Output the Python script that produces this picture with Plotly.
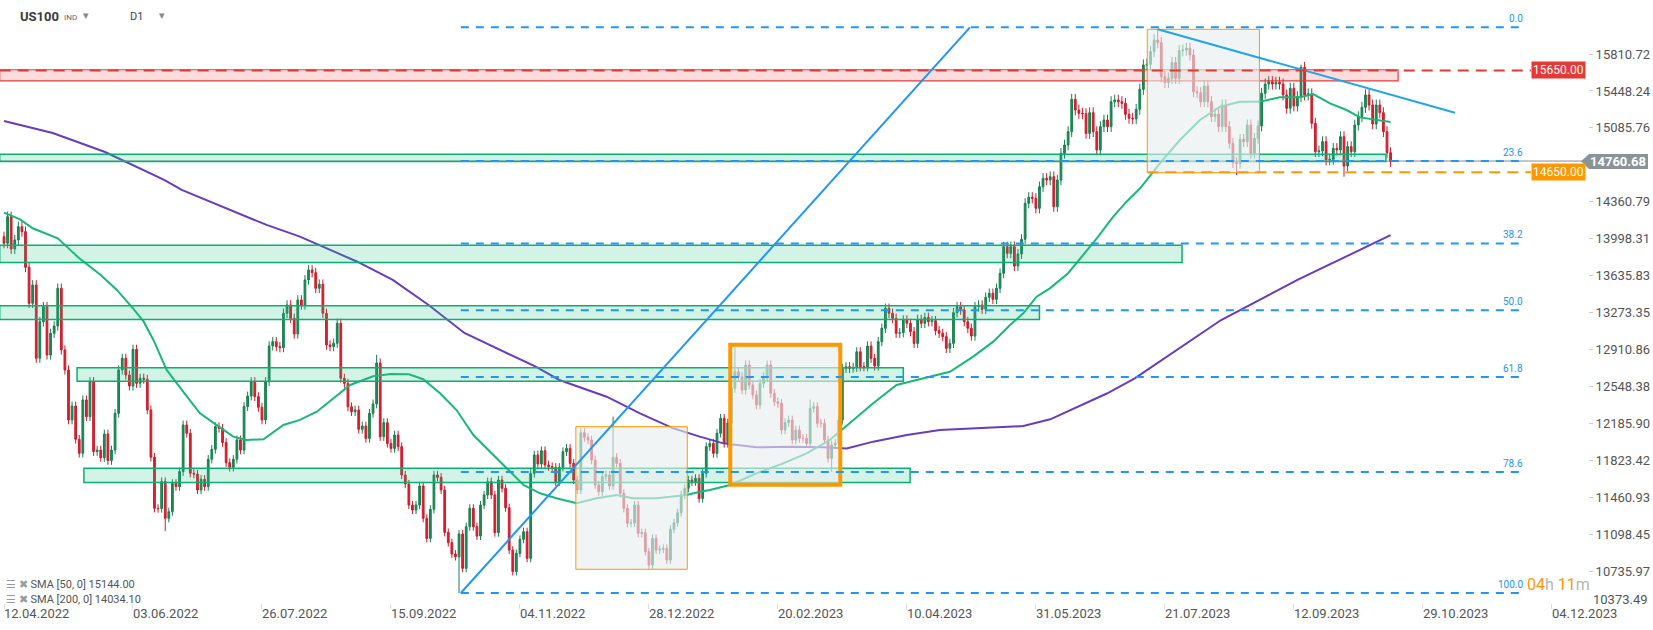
import plotly.graph_objects as go

# ---------------- data ----------------
first_open = 14019
closes = [
 13954,14215,13898,13987,14117,14068,13718,13365,13545,12826,
 13185,13332,12858,13071,13143,13512,12907,12711,12221,12358,
 12031,11894,12417,12253,12597,11910,11926,11851,12083,11822,
 11926,12286,12711,12826,12662,12554,12914,12580,12630,12620,
 12319,11855,11354,11351,11616,11256,11321,11599,11567,11714,
 12172,12090,11698,11690,11534,11639,11567,11835,11933,12155,
 12139,12000,11802,11756,11835,12025,11926,12352,12456,12597,
 12450,12345,12221,12597,12947,12989,12940,12930,13267,13349,
 13218,13064,13398,13349,13594,13692,13666,13512,13552,13267,
 12956,12940,12973,13169,12630,12580,12350,12302,12318,12129,
 12161,12040,12286,12378,12780,12057,12194,11991,11942,12073,
 11959,11681,11592,11386,11337,11386,11573,11256,11059,11344,
 11681,11658,11534,11118,11017,10906,10880,11102,10765,11174,
 11354,11174,11082,11386,11485,11615,11485,11115,11632,11550,
 11360,10945,10733,10912,11050,11125,10863,11697,11877,11789,
 11919,11779,11763,11756,11615,11756,11910,11942,11795,11632,
 11534,12096,12050,12024,11828,11583,11517,11664,11681,11573,
 11854,11795,11501,11354,11207,11210,11386,11108,11115,10929,
 10798,11059,10945,10952,10961,10847,11148,11213,11311,11485,
 11550,11632,11615,11648,11450,11697,11959,11991,11893,12090,
 12237,11991,12190,12531,12694,12645,12515,12760,12564,12466,
 12368,12580,12645,12760,12482,12400,12384,12122,12194,12220,
 12024,12122,12040,12040,11991,12335,12351,12188,12188,12024,
 11844,11975,11991,12220,12727,12743,12727,12737,12890,12743,
 12743,12946,12825,12750,12989,13120,13316,13267,13218,13071,
 13077,13201,13169,13087,12972,13208,13169,13227,13185,13195,
 13097,13071,13038,12923,12972,13273,13332,13299,13185,13120,
 13044,13332,13348,13306,13424,13463,13404,13512,13659,13921,
 13855,13921,13731,13849,13993,14346,14405,14395,14297,14509,
 14591,14575,14607,14313,14575,14836,14918,15049,15366,15261,
 15229,15225,15032,15235,15049,14869,15098,15163,15098,15343,
 15359,15343,15327,15219,15180,15175,15268,15464,15703,15710,
 15834,15948,15922,15588,15530,15572,15726,15572,15843,15850,
 15866,15801,15441,15431,15343,15497,15343,15196,15222,15098,
 15310,15098,14934,14745,14738,14974,14951,15114,14836,14983,
 15104,15425,15516,15539,15516,15533,15516,15409,15278,15474,
 15301,15392,15680,15409,15420,15131,14852,14860,14951,14771,
 14777,14885,14869,15000,14712,14902,14852,15114,15196,15288,
 15409,15310,15124,15310,15235,15049,14843,14755,
]
notable_highs = {104: 12860, 170: 12253, 204: 12956, 225: 12420, 322: 16053, 362: 15705}
notable_lows = {45: 11130, 127: 10523, 180: 10760, 231: 11713, 344: 14624, 374: 14607}

sma50_x = [0,4.5,8,13,15,17.5,21,27,31.5,36,39,41.7,45.4,50,54.7,59.3,64,67.7,72.4,78,
           82.6,87.3,92,96.6,103,108,113,117,121.7,126.3,131,135.6,140.3,145,149.6,154.2,
           159.8,165.4,171,175.6,182.2,186.8,190.5,194.2,197,202.6,210,217.5,224,230.5,
           236.1,242.6,249.1,256.6,264,270.5,276.1,280.8,284.5,288.2,291.9,297,305,309.6,
           313.3,317.1,322.6,328.2,333.8,339.4,345,350.5,356.1,361.7,365.4,370.1,374.7,
           378.5,382.2,387]
sma50_y = [14255,14189,14101,14035,14003,13921,13807,13643,13496,13316,13185,13006,12711,
           12499,12286,12172,12057,12025,12031,12172,12221,12302,12433,12564,12650,12672,
           12668,12620,12482,12318,12073,11910,11746,11583,11501,11452,11403,11452,11485,
           11452,11452,11468,11485,11517,11534,11583,11697,11795,11893,12024,12188,12384,
           12564,12629,12694,12842,12989,13152,13267,13430,13512,13660,14002,14215,14362,
           14493,14738,14967,15163,15294,15343,15343,15386,15386,15418,15327,15261,15189,
           15170,15144]
sma200_x = [0,13.6,28.2,44.7,49.6,64,73.3,82.6,91.9,98.6,108.5,118.5,128.5,138.4,148.4,155,
            158.9,168.2,177.5,186.8,194.2,200.8,210,219.4,228.7,235.2,242.6,252,261.2,270.5,
            279.8,284.5,292,307.8,315.6,339.7,361,387]
sma200_y = [15154,15036,14849,14575,14477,14264,14134,14019,13872,13773,13594,13349,13074,
            12907,12743,12613,12564,12449,12286,12139,12057,11991,11952,11958,11952,11942,
            12008,12073,12122,12139,12155,12161,12227,12480,12629,13201,13594,14034]

date_labels = ["12.04.2022","03.06.2022","26.07.2022","15.09.2022","04.11.2022","28.12.2022",
               "20.02.2023","10.04.2023","31.05.2023","21.07.2023","12.09.2023","29.10.2023",
               "04.12.2023"]
date_label_bars = [0,36,72,108,144,180,216,252,288,324,360,396,432]

price_ticks = [15810.72,15448.24,15085.76,14360.79,13998.31,13635.83,13273.35,12910.86,
               12548.38,12185.90,11823.42,11460.93,11098.45,10735.97]

fib_names = ["0.0","23.6","38.2","50.0","61.8","78.6","100.0"]
fib_values = [16072,14762,13952,13298,12643,11710,10523]

zone_low = [14755,13766,13207,12600,11607]
zone_high = [14828,13934,13342,12733,11748]
zone_start = [-1.2,-1.2,-1.2,20.4,22.3]
zone_end = [385.7,328.8,289.0,251.0,252.9]

resistance_level = 15650.00
resistance_zone = (15547, 15656, -1.2, 389.1)
support_level = 14650.00
last_price = 14760.68

boxes = [  # (bar0, bar1, low, high, line width)
    (159.6, 190.7, 10756, 12155, 1),
    (202.7, 233.4, 11586, 12959, 4),
    (319.1, 350.4, 14646, 16053, 1),
]
fib_anchor = [(127.5, 10523), (269.6, 16072)]
trend_line = [(322, 16053), (405, 15234)]

# ---------------- build ----------------
opens = [first_open] + closes[:-1]
highs, lows = [], []
for i, (o, c) in enumerate(zip(opens, closes)):
    highs.append(notable_highs.get(i, max(o, c) * 1.0035))
    lows.append(notable_lows.get(i, min(o, c) * 0.9965))
bars = list(range(len(closes)))

W, H = 1653, 630
ML, MR, MT, MB = 0, 65, 0, 27
PW, PH = W - ML - MR, H - MT - MB
X_RANGE = [-1.116, 442.1]
Y_RANGE = [10425.2, 16340.4]

def bx(px):   # pixel x -> bar index
    return X_RANGE[0] + px / PW * (X_RANGE[1] - X_RANGE[0])

def ppx(px):  # pixel -> paper x
    return px / PW

def ppy(py):  # pixel -> paper y
    return (PH - py) / PH

FONT = "Roboto, Arial, sans-serif"
BLUE = "#2196f3"
ORANGE = "#ff9800"
RED = "#e53935"

fig = go.Figure()
fig.add_trace(go.Candlestick(
    x=bars, open=opens, high=highs, low=lows, close=closes,
    increasing=dict(line=dict(color="rgb(22,128,80)", width=1), fillcolor="rgb(30,140,88)"),
    decreasing=dict(line=dict(color="rgb(205,28,44)", width=1), fillcolor="rgb(218,34,52)"),
    whiskerwidth=0, showlegend=False, hoverinfo="skip"))
fig.add_trace(go.Scatter(x=sma200_x, y=sma200_y, mode="lines",
                         line=dict(color="rgb(104,60,190)", width=2), showlegend=False, hoverinfo="skip"))
fig.add_trace(go.Scatter(x=sma50_x, y=sma50_y, mode="lines",
                         line=dict(color="rgb(24,184,120)", width=2), showlegend=False, hoverinfo="skip"))

shapes = []
shapes.append(dict(type="line", xref="x", yref="y", x0=-1.2, x1=X_RANGE[1], y0=last_price, y1=last_price,
                   line=dict(color="rgba(120,130,135,0.9)", width=1)))
for lo, hi, s, e in zip(zone_low, zone_high, zone_start, zone_end):
    shapes.append(dict(type="rect", xref="x", yref="y", x0=s, x1=e, y0=lo, y1=hi,
                       fillcolor="rgba(40,195,135,0.20)", line=dict(color="rgb(10,175,115)", width=1.5)))
shapes.append(dict(type="rect", xref="x", yref="y", x0=resistance_zone[2], x1=resistance_zone[3],
                   y0=resistance_zone[0], y1=resistance_zone[1],
                   fillcolor="rgba(240,80,80,0.20)", line=dict(color="rgb(230,60,60)", width=1.2)))
for b0, b1, lo, hi, lw in boxes:
    shapes.append(dict(type="rect", xref="x", yref="y", x0=b0, x1=b1, y0=lo, y1=hi,
                       fillcolor="rgba(232,237,239,0.62)", line=dict(color=ORANGE, width=lw)))
fib_end = bx(1525)
for v in fib_values:
    shapes.append(dict(type="line", xref="x", yref="y", x0=fib_anchor[0][0], x1=fib_end, y0=v, y1=v,
                       line=dict(color=BLUE, width=2, dash="8px,7px")))
shapes.append(dict(type="line", xref="x", yref="y", x0=fib_anchor[0][0], y0=fib_anchor[0][1],
                   x1=fib_anchor[1][0], y1=fib_anchor[1][1], line=dict(color=BLUE, width=2)))
shapes.append(dict(type="line", xref="x", yref="y", x0=trend_line[0][0], y0=trend_line[0][1],
                   x1=trend_line[1][0], y1=trend_line[1][1], line=dict(color="rgb(35,165,235)", width=2)))
shapes.append(dict(type="line", xref="x", yref="y", x0=-1.2, x1=bx(1531), y0=resistance_level, y1=resistance_level,
                   line=dict(color=RED, width=2, dash="11px,7px")))
shapes.append(dict(type="line", xref="x", yref="y", x0=boxes[2][0], x1=bx(1531), y0=support_level, y1=support_level,
                   line=dict(color=ORANGE, width=2, dash="11px,7px")))
yc = ppy(161.3)
shapes.append(dict(type="path", xref="paper", yref="paper",
                   path=f"M {ppx(1581)},{yc} L {ppx(1589)},{ppy(154)} L {ppx(1648)},{ppy(154)} "
                        f"L {ppx(1648)},{ppy(169)} L {ppx(1589)},{ppy(169)} Z",
                   fillcolor="rgb(138,148,152)", line=dict(width=0)))

ann = []
for lab, b in zip(date_labels, date_label_bars):
    ann.append(dict(x=b, y=ppy(613), xref="x", yref="paper", text=lab, showarrow=False,
                    xanchor="left", yanchor="middle", xshift=-2,
                    font=dict(family=FONT, size=13, color="#555")))
ann.append(dict(x=1.0, y=ppy(599), xref="paper", yref="paper", text="10373.49", showarrow=False,
                xanchor="left", yanchor="middle", xshift=3, font=dict(family=FONT, size=13, color="#555")))
for name, v in zip(fib_names, fib_values):
    ann.append(dict(x=fib_end, y=v, xref="x", yref="y", text=name, showarrow=False,
                    xanchor="right", yanchor="bottom", yshift=1,
                    font=dict(family=FONT, size=10, color=BLUE)))
ann.append(dict(x=ppx(1531), y=resistance_level, xref="paper", yref="y", text="15650.00", showarrow=False,
                xanchor="left", yanchor="middle", bgcolor=RED, borderpad=1,
                font=dict(family=FONT, size=12, color="white")))
ann.append(dict(x=ppx(1531), y=support_level, xref="paper", yref="y", text="14650.00", showarrow=False,
                xanchor="left", yanchor="middle", bgcolor=ORANGE, borderpad=1,
                font=dict(family=FONT, size=12, color="white")))
ann.append(dict(x=ppx(1618), y=yc, xref="paper", yref="paper", text="<b>14760.68</b>", showarrow=False,
                xanchor="center", yanchor="middle", font=dict(family=FONT, size=13, color="white")))
ann.append(dict(x=ppx(1525), y=ppy(584), xref="paper", yref="paper", showarrow=False, xanchor="left",
                yanchor="middle",
                text='<span style="color:#ff9800">04</span><span style="color:#b5b5b5">h</span> '
                     '<span style="color:#ff9800">11</span><span style="color:#b5b5b5">m</span>',
                font=dict(family=FONT, size=16)))
for txt, py in [("SMA [50, 0] 15144.00", 584), ("SMA [200, 0] 14034.10", 599)]:
    ann.append(dict(x=ppx(4), y=ppy(py), xref="paper", yref="paper", showarrow=False, xanchor="left",
                    yanchor="middle",
                    text='<span style="color:#9a9a9a">☰ ✖</span> ' + txt,
                    font=dict(family=FONT, size=11, color="#555")))
ann.append(dict(x=ppx(18), y=ppy(17), xref="paper", yref="paper", showarrow=False, xanchor="left",
                yanchor="middle", text="<b>US100</b>", font=dict(family=FONT, size=13, color="#3a3a3a")))
ann.append(dict(x=ppx(62), y=ppy(18), xref="paper", yref="paper", showarrow=False, xanchor="left",
                yanchor="middle", text="IND", font=dict(family=FONT, size=8, color="#666")))
ann.append(dict(x=ppx(81), y=ppy(16), xref="paper", yref="paper", showarrow=False, xanchor="left",
                yanchor="middle", text="▾", font=dict(family=FONT, size=11, color="#888")))
ann.append(dict(x=ppx(128), y=ppy(17), xref="paper", yref="paper", showarrow=False, xanchor="left",
                yanchor="middle", text="D1", font=dict(family=FONT, size=11, color="#444")))
ann.append(dict(x=ppx(157), y=ppy(16), xref="paper", yref="paper", showarrow=False, xanchor="left",
                yanchor="middle", text="▾", font=dict(family=FONT, size=11, color="#888")))

fig.update_layout(
    width=W, height=H, margin=dict(l=ML, r=MR, t=MT, b=MB),
    paper_bgcolor="white", plot_bgcolor="white",
    shapes=shapes, annotations=ann, showlegend=False,
    xaxis=dict(range=X_RANGE, showgrid=False, zeroline=False, showline=False,
               rangeslider=dict(visible=False), tickvals=date_label_bars, showticklabels=False,
               ticks="outside", ticklen=5, tickcolor="#dddddd"),
    yaxis=dict(range=Y_RANGE, side="right", showgrid=False, zeroline=False, showline=False,
               tickvals=price_ticks, ticktext=[f"{v:.2f}" for v in price_ticks],
               ticks="outside", ticklen=4, tickcolor="#cccccc",
               tickfont=dict(family=FONT, size=13, color="#555")),
)
fig.write_html("out.html", config={"displayModeBar": False},
               post_script="document.body.style.margin='0px';document.body.style.overflow='hidden';")
